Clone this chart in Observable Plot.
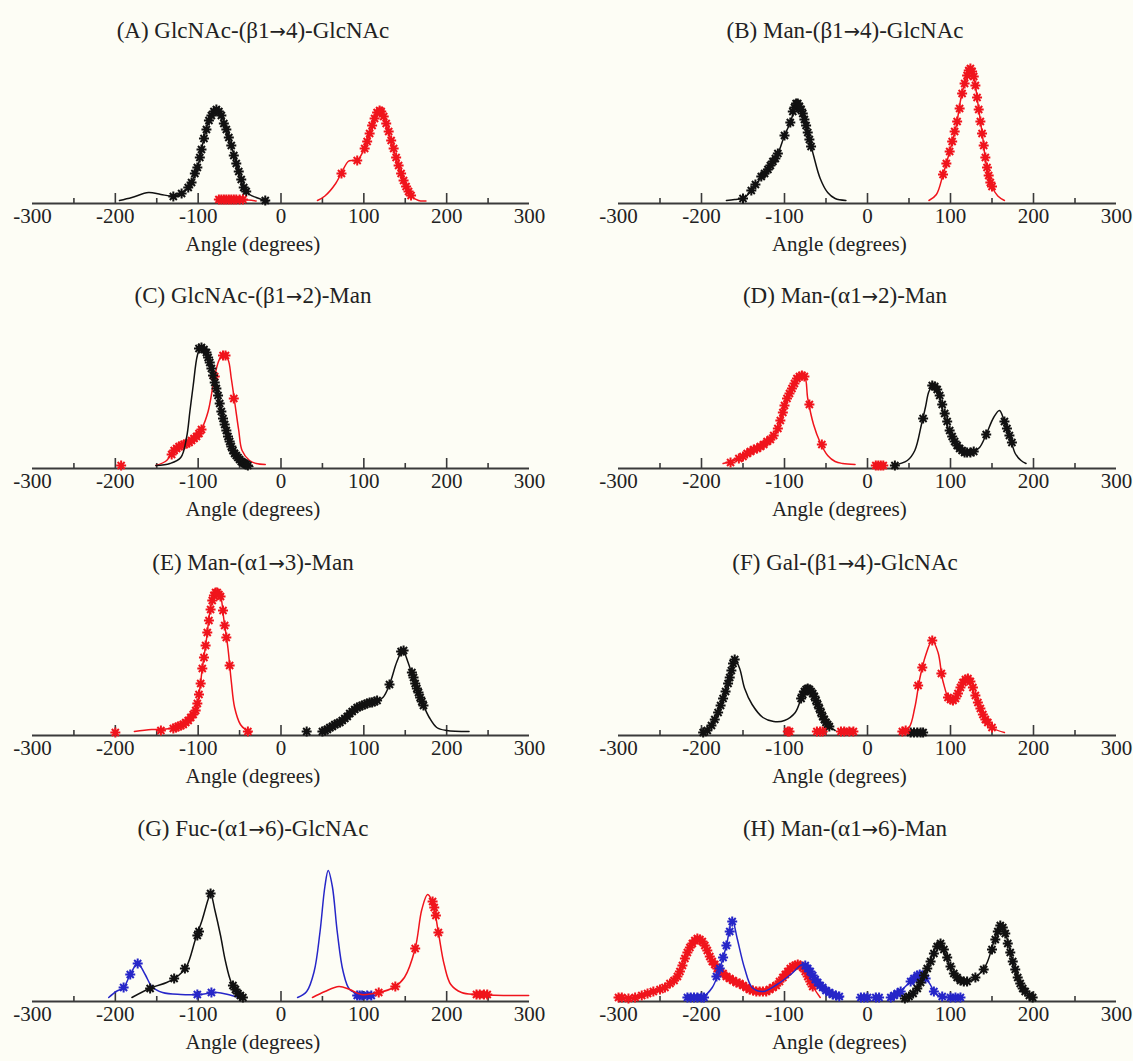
<!DOCTYPE html>
<html><head><meta charset="utf-8">
<script src="https://cdn.jsdelivr.net/npm/d3@7"></script>
<script src="https://cdn.jsdelivr.net/npm/@observablehq/plot@0.6"></script>
<style>
body{margin:0;background:#fdfdf5;}
#wrap{position:relative;width:1133px;height:1061px;background:#fdfdf5;overflow:hidden;font-family:"Liberation Serif","Times New Roman",serif;}
.title{position:absolute;transform:translate(-50%,-50%);font-size:23px;color:#222;white-space:nowrap;}
.title .arr{font-family:"DejaVu Sans",sans-serif;font-size:0.85em;}
.panel{position:absolute;}
</style></head><body><div id="wrap"></div>
<script>
// ---------- data (angle in degrees, relative population a.u.) ----------
const tickLabels = [-300,-200,-100,0,100,200,300];
const majorTicks = [-200,-100,0,100,200];
const minorTicks = [-250,-150,-50,50,150,250];
const xLabel = "Angle (degrees)";
const titles = ["(A) GlcNAc-(β1→4)-GlcNAc","(B) Man-(β1→4)-GlcNAc","(C) GlcNAc-(β1→2)-Man","(D) Man-(α1→2)-Man","(E) Man-(α1→3)-Man","(F) Gal-(β1→4)-GlcNAc","(G) Fuc-(α1→6)-GlcNAc","(H) Man-(α1→6)-Man"];

// Panel A
const A_black_line = [[-195,3],[-180,6],[-160,11],[-145,9],[-130,7.5],[-120,10],[-112,16],[-106,25],[-101,35],[-95,58],[-88,81],[-82,91],[-77,94],[-71,86],[-64,68],[-58,52],[-51,32],[-45,16],[-38,9],[-30,6],[-19,3],[-15,2.5]];
const A_black_stars = [[-130,7],[-120,10],[-112,16],[-108,21],[-104,30],[-101,36],[-98,46],[-96,54],[-93,65],[-90,74],[-87,83],[-84,88],[-81,92],[-78,94],[-75,92],[-72,88],[-69,80],[-66,74],[-63,66],[-60,58],[-57,48],[-54,40],[-51,32],[-48,24],[-45,16],[-42,12],[-19,3]];
const A_red_line1 = [[-78,3],[-70,4],[-55,4],[-40,3.5],[-30,2.5]];
const A_red_line2 = [[44,3],[53,7.5],[66,20],[75,34],[81,42],[86,43],[92,43],[99,52],[105,65],[110,78],[116,91],[119,93],[125,84],[131,68],[138,48],[144,32],[151,17],[157,7.5],[166,3],[175,2.5]];
const A_red_stars = [[-75,4],[-72,4],[-69,4],[-66,4],[-63,4],[-60,4],[-57,4],[-54,4],[-50,4],[-46,4],[73,30],[92,43],[101,55],[104,62],[107,70],[110,78],[113,85],[116,91],[119,93],[121,92],[124,87],[127,80],[130,72],[133,63],[136,55],[139,46],[142,38],[145,30],[148,23],[151,17],[154,12],[157,8]];
// Panel B
const B_black_line = [[-170,3],[-160,4],[-148,6],[-135,19],[-122,32],[-109,48],[-100,68],[-93,81],[-87,97],[-85,100],[-78,91],[-72,71],[-65,48],[-57,25],[-48,11],[-39,5],[-26,3]];
const B_black_stars = [[-150,5],[-140,13],[-135,19],[-128,27],[-124,30],[-120,34],[-117,38],[-114,42],[-111,45],[-108,50],[-100,68],[-93,81],[-90,92],[-88,96],[-86,100],[-84,100],[-82,97],[-80,94],[-78,90],[-76,84],[-74,78],[-72,71],[-70,64],[-68,57]];
const B_red_line = [[74,3],[83,9],[91,29],[100,55],[107,78],[113,107],[120,128],[124,135],[128,127],[133,100],[139,65],[143,39],[150,17],[157,7.5],[165,3]];
const B_red_stars = [[91,29],[95,40],[99,52],[102,62],[105,72],[108,82],[111,95],[114,110],[117,120],[120,128],[122,133],[124,135],[126,132],[128,127],[130,118],[132,106],[134,94],[136,82],[138,70],[140,58],[142,46],[144,36],[146,28],[148,21],[150,17]];
// Panel C
const C_black_line = [[-151,3],[-134,5],[-121,11],[-114,31],[-110,57],[-106,83],[-101,113],[-97,121],[-90,116],[-84,100],[-77,77],[-71,51],[-64,31],[-58,18],[-51,10],[-43,5],[-34,2]];
const C_black_stars = [[-99,120],[-96,121],[-93,119],[-90,116],[-88,111],[-86,106],[-84,100],[-82,93],[-80,86],[-78,80],[-76,73],[-74,65],[-72,57],[-70,50],[-68,44],[-66,38],[-64,32],[-62,27],[-60,22],[-58,18],[-56,15],[-54,13],[-52,11],[-50,9],[-48,7],[-46,6],[-44,5],[-42,4],[-40,3]];
const C_red_line = [[-151,3],[-138,8],[-130,18],[-121,23],[-112,26],[-103,31],[-95,41],[-88,57],[-82,83],[-77,103],[-73,111],[-69,113],[-64,109],[-60,90],[-56,67],[-51,38],[-47,18],[-38,8],[-30,5],[-19,4]];
const C_red_stars = [[-193,3],[-132,14],[-129,18],[-126,20],[-123,22],[-120,23],[-117,24],[-114,25],[-111,26],[-108,28],[-105,30],[-102,32],[-99,35],[-96,39],[-80,92],[-70,113],[-67,113],[-57,70]];
// Panel D
const D_red_line = [[-174,5],[-161,8],[-143,16],[-130,21],[-117,29],[-109,38],[-104,51],[-100,64],[-93,77],[-87,87],[-83,92],[-76,92],[-72,70],[-65,44],[-57,26],[-48,13],[-39,7],[-30,5],[-15,4]];
const D_red_stars = [[-165,6],[-155,10],[-150,12],[-145,15],[-141,17],[-137,19],[-133,20],[-129,22],[-125,24],[-121,27],[-117,29],[-113,33],[-108,40],[-105,48],[-102,56],[-100,63],[-97,70],[-94,75],[-91,80],[-88,85],[-85,90],[-82,92],[-79,93],[-76,92],[-70,64],[-55,24],[10,3],[13,3],[16,3],[19,3]];
const D_black_line = [[30,3],[48,8],[57,18],[65,44],[70,62],[74,77],[79,83],[85,77],[91,57],[100,34],[109,21],[117,16],[126,16],[135,21],[143,34],[152,51],[159,58],[165,47],[172,31],[178,15],[185,8],[191,5]];
const D_black_stars = [[33,3],[67,50],[78,83],[81,82],[84,79],[87,73],[90,64],[93,55],[96,47],[99,38],[102,32],[105,27],[108,23],[111,20],[114,18],[117,16],[120,16],[124,16],[128,17],[143,34],[165,47],[168,40],[171,33],[174,26]];
// Panel E
const E_red_line = [[-177,4],[-156,6],[-134,7],[-121,10],[-112,15],[-103,25],[-99,41],[-95,67],[-90,96],[-86,123],[-82,139],[-77,143],[-73,139],[-69,116],[-64,87],[-60,54],[-56,28],[-49,11],[-43,6],[-36,3]];
const E_red_stars = [[-200,3],[-145,5],[-130,7],[-127,8],[-124,9],[-121,10],[-118,11],[-115,13],[-112,15],[-109,18],[-106,21],[-103,25],[-101,32],[-99,41],[-97,52],[-95,67],[-93,78],[-91,90],[-89,103],[-87,115],[-85,126],[-83,135],[-81,140],[-79,143],[-77,143],[-75,141],[-73,139],[-70,125],[-68,110],[-66,98],[-62,70],[-40,4]];
const E_black_line = [[49,4],[57,7],[70,13],[79,18],[92,28],[101,31],[114,34],[123,38],[131,51],[140,74],[147,85],[153,74],[162,51],[170,34],[179,18],[188,8],[200,5],[227,4]];
const E_black_stars = [[31,4],[50,4],[53,5],[56,6],[59,8],[62,9],[65,11],[68,12],[71,13],[74,15],[77,17],[80,19],[83,22],[86,24],[89,26],[92,28],[95,29],[98,30],[101,31],[104,32],[107,33],[110,33],[113,34],[116,35],[131,51],[145,84],[148,85],[158,63],[160,58],[162,52],[164,47],[166,43],[168,38],[170,34],[172,30]];
// Panel F
const F_black_line = [[-200,3],[-187,11],[-178,28],[-170,47],[-163,70],[-160,77],[-154,67],[-148,47],[-139,31],[-126,18],[-113,14],[-100,15],[-87,23],[-78,41],[-72,47],[-65,41],[-57,25],[-48,11],[-39,5]];
const F_black_stars = [[-198,3],[-193,5],[-188,10],[-184,16],[-180,23],[-177,30],[-174,37],[-171,44],[-168,52],[-166,58],[-164,65],[-162,72],[-160,76],[-80,37],[-78,41],[-76,44],[-74,46],[-72,47],[-70,46],[-68,44],[-66,42],[-64,39],[-62,35],[-60,31],[-58,27],[-56,23],[-54,19],[-52,16],[-50,13],[-48,11],[-46,9],[52,3],[56,3],[60,3],[64,3],[67,3]];
const F_red_line = [[39,3],[50,8],[57,28],[63,57],[70,80],[78,95],[85,83],[91,54],[100,34],[107,38],[113,51],[120,57],[126,47],[135,28],[143,15],[152,7],[165,3]];
const F_red_stars = [[-96,4],[-94,4],[-61,4],[-57,4],[-54,4],[-32,4],[-28,4],[-22,4],[-17,4],[42,4],[46,5],[61,50],[66,68],[78,95],[89,62],[97,38],[100,36],[103,35],[106,37],[109,42],[112,48],[115,53],[118,56],[121,57],[124,54],[127,48],[130,40],[133,33],[136,27],[139,21],[142,16],[145,13],[150,8]];
// Panel G
const G_blue_line1 = [[-208,4],[-199,10],[-190,14],[-182,27],[-173,38],[-164,27],[-156,15],[-143,9],[-121,7],[-99,7],[-77,9],[-64,7],[-51,4]];
const G_blue_line2 = [[20,4],[31,10],[40,30],[47,69],[53,115],[57,131],[62,115],[68,69],[75,30],[83,12],[97,7],[114,6]];
const G_blue_stars = [[-190,14],[-182,27],[-173,38],[-101,7],[-84,9],[92,6],[95,6],[98,6],[104,6],[109,6]];
const G_black_line = [[-180,4],[-156,14],[-138,19],[-125,25],[-114,35],[-103,63],[-95,82],[-88,102],[-85,108],[-80,92],[-73,66],[-67,40],[-60,19],[-51,7],[-45,4]];
const G_black_stars = [[-158,13],[-129,23],[-116,33],[-101,66],[-99,70],[-85,108],[-58,16],[-55,12],[-52,8],[-49,6],[-46,4]];
const G_red_line = [[38,4],[53,10],[70,15],[83,12],[97,7],[118,9],[136,14],[149,24],[162,53],[170,92],[177,107],[183,99],[190,69],[197,37],[205,17],[218,9],[236,7],[270,6],[299,6]];
const G_red_stars = [[118,9],[138,15],[162,53],[183,100],[185,94],[187,86],[190,69],[236,7],[240,7],[245,7],[249,7]];
// Panel H
const H_red_line = [[-304,4],[-285,3],[-261,9],[-243,14],[-230,24],[-222,40],[-213,56],[-204,63],[-196,56],[-187,40],[-178,30],[-165,22],[-152,17],[-135,10],[-122,10],[-109,17],[-96,30],[-83,37],[-74,30],[-65,14],[-57,4]];
const H_red_stars = [[-300,4],[-296,4],[-288,3],[-280,4],[-272,6],[-265,8],[-258,10],[-250,12],[-244,14],[-238,18],[-233,21],[-229,25],[-226,30],[-223,36],[-220,43],[-217,49],[-214,54],[-211,58],[-208,61],[-205,63],[-202,62],[-199,60],[-196,56],[-193,51],[-190,45],[-187,40],[-184,37],[-181,33],[-178,30],[-174,28],[-170,25],[-166,23],[-162,21],[-158,19],[-154,18],[-150,16],[-146,14],[-142,12],[-138,11],[-134,10],[-130,10],[-126,10],[-122,10],[-118,12],[-114,14],[-110,16],[-106,20],[-102,24],[-99,27],[-96,30],[-93,33],[-90,35],[-87,36],[-84,37],[-81,36],[-78,34],[-75,30],[-72,25],[-69,20],[-66,15]];
const H_blue_line1 = [[-217,4],[-200,4],[-187,14],[-178,33],[-170,56],[-163,82],[-157,63],[-148,33],[-139,14],[-126,10],[-109,17],[-91,28],[-78,37],[-65,24],[-48,10],[-30,4]];
const H_blue_line2 = [[26,4],[39,10],[52,20],[63,27],[74,19],[83,7],[96,4],[113,3]];
const H_blue_stars = [[-217,4],[-213,4],[-209,4],[-205,4],[-200,4],[-197,4],[-182,25],[-178,33],[-174,44],[-170,56],[-166,70],[-163,80],[-75,36],[-72,33],[-69,30],[-66,26],[-63,22],[-60,19],[-57,16],[-54,14],[-50,11],[-46,9],[-42,7],[-38,6],[-34,5],[-8,4],[-4,4],[0,4],[10,4],[14,4],[28,4],[32,6],[36,8],[40,10],[52,20],[56,23],[60,26],[63,27],[66,26],[70,23],[80,10],[90,5],[100,4],[106,4],[112,4]];
const H_black_line = [[43,2],[57,10],[67,24],[74,37],[83,56],[87,59],[96,43],[104,27],[117,20],[130,24],[143,37],[152,59],[161,77],[167,66],[174,43],[183,20],[191,9],[200,4]];
const H_black_stars = [[45,3],[50,5],[55,8],[60,13],[64,19],[68,26],[72,33],[76,40],[80,48],[84,55],[88,58],[92,52],[96,44],[100,35],[104,28],[108,24],[112,21],[116,20],[120,20],[130,24],[140,32],[150,52],[154,62],[157,70],[160,76],[163,74],[166,68],[169,58],[172,49],[175,40],[178,32],[181,24],[184,18],[187,13],[190,10],[195,6],[199,4]];

// ---------- assembly ----------
const BLACK = "#111", RED = "#f0141c", BLUE = "#2626c8";
const panels = [
  {series:[{c:BLACK,lines:[A_black_line],stars:A_black_stars},{c:RED,lines:[A_red_line1,A_red_line2],stars:A_red_stars}]},
  {series:[{c:BLACK,lines:[B_black_line],stars:B_black_stars},{c:RED,lines:[B_red_line],stars:B_red_stars}]},
  {series:[{c:RED,lines:[C_red_line],stars:C_red_stars},{c:BLACK,lines:[C_black_line],stars:C_black_stars}]},
  {series:[{c:RED,lines:[D_red_line],stars:D_red_stars},{c:BLACK,lines:[D_black_line],stars:D_black_stars}]},
  {series:[{c:RED,lines:[E_red_line],stars:E_red_stars},{c:BLACK,lines:[E_black_line],stars:E_black_stars}]},
  {series:[{c:BLACK,lines:[F_black_line],stars:F_black_stars},{c:RED,lines:[F_red_line],stars:F_red_stars}]},
  {series:[{c:BLUE,lines:[G_blue_line1,G_blue_line2],stars:G_blue_stars},{c:BLACK,lines:[G_black_line],stars:G_black_stars},{c:RED,lines:[G_red_line],stars:G_red_stars}]},
  {series:[{c:RED,lines:[H_red_line],stars:H_red_stars},{c:BLUE,lines:[H_blue_line1,H_blue_line2],stars:H_blue_stars},{c:BLACK,lines:[H_black_line],stars:H_black_stars}]}
];
const rowAxisY = [203, 468, 735, 1001];
const FONT = '"Liberation Serif","Times New Roman",serif';

const starSymbol = {
  draw(ctx, size) {
    const r = Math.sqrt(size / Math.PI);
    for (let i = 0; i < 4; i++) {
      const a = i * Math.PI / 4, dx = r * Math.cos(a), dy = r * Math.sin(a);
      ctx.moveTo(-dx, -dy); ctx.lineTo(dx, dy);
    }
  }
};

const wrap = document.getElementById("wrap");
panels.forEach((p, i) => {
  const row = Math.floor(i / 2), col = i % 2;
  const axisY = rowAxisY[row];
  const W = col === 0 ? 566 : 567;
  const mL = col === 0 ? 32 : 52, mR = col === 0 ? 37 : 17;
  const H = 235, mT = 5, mB = 60;
  const marks = [
    Plot.ruleY([0], {stroke: "#3a3a3a", strokeWidth: 2}),
    Plot.tickX(majorTicks, {x: d => d, insetTop: 160, stroke: "#3a3a3a", strokeWidth: 1.6}),
    Plot.tickX(minorTicks, {x: d => d, insetTop: 165, stroke: "#3a3a3a", strokeWidth: 1.6})
  ];
  p.series.forEach(s => {
    s.lines.forEach(l => {
      marks.push(Plot.line(l, {x: d => d[0], y: d => d[1], stroke: s.c, strokeWidth: 1.5, curve: "catmull-rom"}));
    });
    marks.push(Plot.dot(s.stars, {x: d => d[0], y: d => d[1], symbol: starSymbol, r: 5, stroke: s.c, fill: "none", strokeWidth: 2}));
  });
  marks.push(Plot.text(tickLabels, {x: d => d, frameAnchor: "bottom", dy: 19, text: d => String(d), fontSize: 21, fontFamily: FONT, fill: "#222"}));
  // axis title sits slightly left of the axis centre, as in the original figure
  marks.push(Plot.text([xLabel], {x: () => -34, frameAnchor: "bottom", dy: 47, text: d => d, fontSize: 21, fontFamily: FONT, fill: "#222"}));
  const svg = Plot.plot({
    width: W, height: H, marginLeft: mL, marginRight: mR, marginTop: mT, marginBottom: mB,
    x: {domain: [-300, 300], axis: null},
    y: {domain: [0, 170], axis: null},
    style: {background: "transparent", overflow: "visible", fontFamily: FONT},
    marks
  });
  const div = document.createElement("div");
  div.className = "panel";
  div.style.left = (col === 0 ? 0 : 566) + "px";
  div.style.top = (axisY - (H - mB)) + "px";
  div.appendChild(svg);
  wrap.appendChild(div);
  const t = document.createElement("div");
  t.className = "title";
  const parts = titles[i].split("→");
  t.appendChild(document.createTextNode(parts[0]));
  const a = document.createElement("span");
  a.className = "arr"; a.textContent = "→";
  t.appendChild(a);
  t.appendChild(document.createTextNode(parts[1]));
  t.style.left = (col === 0 ? 253 : 845) + "px";
  t.style.top = (axisY - 172) + "px";
  wrap.appendChild(t);
});
</script></body></html>
